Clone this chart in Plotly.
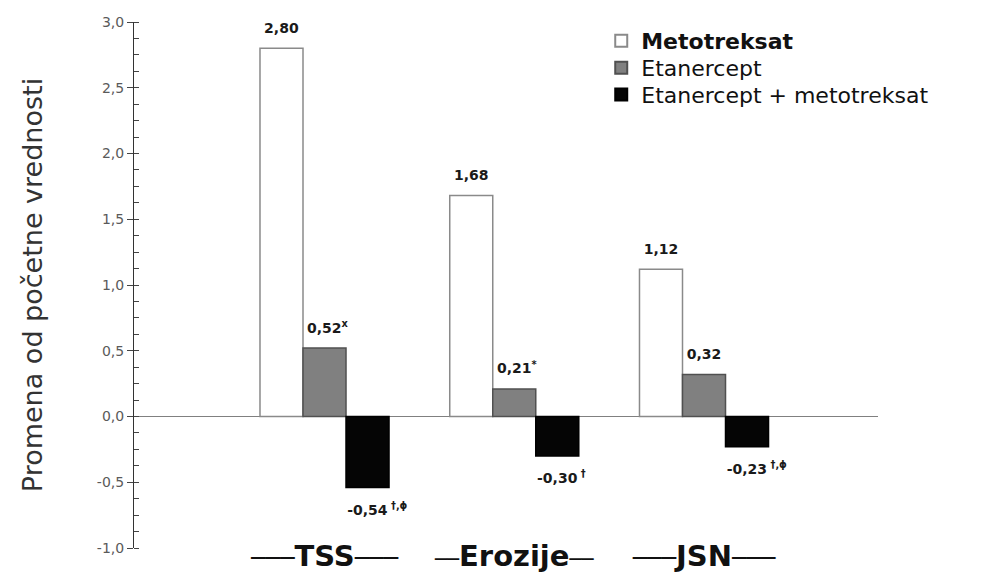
import plotly.graph_objects as go

categories = ["TSS", "Erozije", "JSN"]
line_long = "<span style='font-size:24px'>───</span>"
line_short = "<span style='font-size:20px'>──</span>"
category_labels = [line_long + "TSS" + line_long,
                   line_short + "Erozije" + line_short,
                   line_long + "JSN" + line_long]

series_names = ["<b>Metotreksat</b>", "Etanercept", "Etanercept + metotreksat"]
metotreksat = [2.80, 1.68, 1.12]
etanercept = [0.52, 0.21, 0.32]
etanercept_mtx = [-0.54, -0.30, -0.23]

metotreksat_values_text = ["2,80", "1,68", "1,12"]
etanercept_values_text = ["0,52", "0,21", "0,32"]
etanercept_mtx_values_text = ["-0,54", "-0,30", "-0,23"]
metotreksat_marks = ["", "", ""]
etanercept_marks = ["x", "*", ""]
etanercept_mtx_marks = [" †,ϕ", " †", " †,ϕ"]

y_tick_vals = [-1.0, -0.5, 0.0, 0.5, 1.0, 1.5, 2.0, 2.5, 3.0]
y_tick_text = ["-1,0", "-0,5", "0,0", "0,5", "1,0", "1,5", "2,0", "2,5", "3,0"]

FONT = "DejaVu Sans, Liberation Sans, Arial, sans-serif"
NBSP = "\u00a0"
LABEL_SIZE = 14


def label(num, mark):
    sup = f"<sup>{mark}</sup>" if mark else ""
    pad = f"<span style='color:rgba(0,0,0,0)'>{sup}</span>" if mark else ""
    return f"<span style='font-size:{LABEL_SIZE}px'>{pad}{num}{sup}</span>"


def above(s):
    return s + "<br>" + NBSP


def below(s):
    return NBSP + "<br>" + s


fills = ["#ffffff", "#808080", "#050505"]
edges = ["#8a8a8a", "#505050", "#000000"]
values = [metotreksat, etanercept, etanercept_mtx]
nums = [metotreksat_values_text, etanercept_values_text, etanercept_mtx_values_text]
marks = [metotreksat_marks, etanercept_marks, etanercept_mtx_marks]
legend_ids = ["legend", "legend2", "legend3"]
legend_rows_px = [39, 66, 93]  # text centre of each legend row, px from top

fig = go.Figure()
for name, vals, ns, ms, fc, ec, lid in zip(series_names, values, nums, marks, fills, edges, legend_ids):
    texts = [above(label(n, m)) if v >= 0 else below(label(n, m)) for n, m, v in zip(ns, ms, vals)]
    sizes = [8 if v >= 0 else 11 for v in vals]
    fig.add_trace(go.Bar(
        x=categories, y=vals, name=name, legend=lid,
        text=texts, textposition="outside", constraintext="none",
        textfont=dict(family=FONT, size=sizes, color="#1a1a1a", weight="bold"),
        marker=dict(color=fc, line=dict(color=ec, width=1.5)),
        cliponaxis=False,
    ))

PLOT_TOP, PLOT_BOTTOM = 20, 548
legend_common = dict(
    x=0.628, xanchor="left", yanchor="middle",
    font=dict(family=FONT, size=22, color="#111111"),
    bgcolor="rgba(0,0,0,0)", itemsizing="constant",
)
legend_layouts = {}
for lid, row in zip(legend_ids, legend_rows_px):
    legend_layouts[lid] = dict(legend_common, y=(PLOT_BOTTOM - row) / (PLOT_BOTTOM - PLOT_TOP))

fig.update_layout(
    width=979, height=577,
    barmode="group", bargap=0.32, bargroupgap=0,
    plot_bgcolor="white", paper_bgcolor="white",
    margin=dict(l=126, r=109, t=12, b=37),
    font=dict(family=FONT, color="#222222"),
    showlegend=True,
    **legend_layouts,
)

fig.update_xaxes(
    range=[-1.004, 2.917], automargin=False,
    tickmode="array", tickvals=categories, ticktext=category_labels,
    tickfont=dict(family=FONT, size=29, color="#111111", weight="bold"),
    ticklabelstandoff=-12,
    showline=False, ticks="", showgrid=False, zeroline=False,
)

fig.update_yaxes(
    range=[-1.0, 3.0], automargin=False,
    tickmode="array", tickvals=y_tick_vals, ticktext=y_tick_text,
    tickfont=dict(family=FONT, size=14, color="#5a5a5a"),
    ticks="outside", ticklen=6, tickcolor="#444444", tickwidth=1,
    minor=dict(dtick=0.125, ticks="inside", ticklen=5, tickcolor="#444444", tickwidth=1),
    showline=True, linecolor="#333333", linewidth=1,
    showgrid=False,
    zeroline=True, zerolinecolor="#808080", zerolinewidth=1,
    title=dict(text="Promena od početne vrednosti",
               font=dict(family=FONT, size=27, color="#333333"), standoff=46),
)

fig.write_html("out.html")
